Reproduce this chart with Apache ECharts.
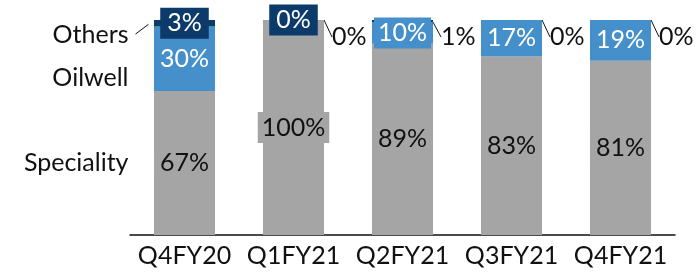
<!DOCTYPE html>
<html>
<head>
<meta charset="utf-8">
<script src="https://cdn.jsdelivr.net/npm/echarts@6/dist/echarts.min.js"></script>
<style>
  html, body { margin: 0; padding: 0; background: #fff; }
  #chart { width: 697px; height: 275px; }
</style>
</head>
<body>
<div id="chart"></div>
<script>
// Chart data
const quarters = ['Q4FY20', 'Q1FY21', 'Q2FY21', 'Q3FY21', 'Q4FY21'];
const speciality = [67, 100, 89, 83, 81];
const oilwell = [30, 0, 10, 17, 19];
const others = [3, 0, 1, 0, 0];
const seriesNames = ['Speciality', 'Oilwell', 'Others'];

// Which labels sit outside the bar (right side, with a leader line)
const oilwellOutside = [false, true, false, false, false];
const othersOutside = [false, false, true, true, true];

const FONT = 'Lato, "Open Sans", sans-serif';
const FSIZE = 25;
const GRAY = '#a5a5a5';
const BLUE = '#4590cb';
const NAVY = '#0c3b6b';

const chart = echarts.init(document.getElementById('chart'), null, { renderer: 'canvas' });

function outsideLayout(flags) {
    return function(params) {
        if (!flags[params.dataIndex]) return {};
        return {
            x: params.rect.x + params.rect.width + 8,
            y: params.rect.y + 17,
            align: 'left',
            verticalAlign: 'middle'
        };
    };
}

function itemData(values, flags) {
    return values.map((v, i) => {
        if (flags && flags[i]) {
            return {
                value: v,
                label: {
                    color: '#111',
                    backgroundColor: 'transparent',
                    padding: 0
                },
                labelLine: { show: true, lineStyle: { color: '#111', width: 1 } }
            };
        }
        return v;
    });
}

const option = {
    animation: false,
    grid: { left: 130, right: 22, top: 20, bottom: 40 },
    xAxis: {
        type: 'category',
        data: quarters,
        axisLine: { lineStyle: { color: '#111', width: 1.5 } },
        axisTick: { show: false },
        axisLabel: { color: '#111', fontFamily: FONT, fontSize: FSIZE, margin: 8, interval: 0 }
    },
    yAxis: {
        type: 'value',
        min: 0,
        max: 100,
        show: false
    },
    series: [
        {
            name: seriesNames[0],
            type: 'bar',
            stack: 'mix',
            barWidth: '56%',
            itemStyle: { color: GRAY },
            label: {
                show: true,
                position: 'inside',
                color: '#111',
                fontFamily: FONT,
                fontSize: FSIZE,
                backgroundColor: GRAY,
                padding: [3, 4],
                formatter: p => p.value + '%'
            },
            data: speciality
        },
        {
            name: seriesNames[1],
            type: 'bar',
            stack: 'mix',
            itemStyle: { color: BLUE },
            label: {
                show: true,
                position: 'inside',
                color: '#fff',
                fontFamily: FONT,
                fontSize: FSIZE,
                backgroundColor: BLUE,
                padding: [3, 4],
                formatter: p => p.value + '%'
            },
            labelLayout: outsideLayout(oilwellOutside),
            data: itemData(oilwell, oilwellOutside)
        },
        {
            name: seriesNames[2],
            type: 'bar',
            stack: 'mix',
            itemStyle: { color: NAVY },
            label: {
                show: true,
                position: 'inside',
                color: '#fff',
                fontFamily: FONT,
                fontSize: FSIZE,
                backgroundColor: NAVY,
                padding: [3, 7],
                formatter: p => p.value + '%'
            },
            labelLayout: outsideLayout(othersOutside),
            data: itemData(others, othersOutside)
        }
    ]
};

chart.setOption(option);

// Series names on the left of the first bar
const p0 = chart.convertToPixel({ gridIndex: 0 }, [0, 0]);
const nameRight = p0[0] - 56;
const yOthers = chart.convertToPixel({ gridIndex: 0 }, [0, 93])[1];
const yOilwell = chart.convertToPixel({ gridIndex: 0 }, [0, 73])[1];
const ySpec = chart.convertToPixel({ gridIndex: 0 }, [0, speciality[0] / 2])[1];
const yTop = chart.convertToPixel({ gridIndex: 0 }, [0, 98])[1];

function nameText(text, y) {
    return {
        type: 'text',
        x: nameRight,
        y: y,
        style: {
            text: text,
            fill: '#111',
            font: FSIZE + 'px ' + FONT,
            textAlign: 'right',
            textVerticalAlign: 'middle'
        }
    };
}

chart.setOption({
    graphic: [
        nameText(seriesNames[2], yOthers),
        nameText(seriesNames[1], yOilwell),
        nameText(seriesNames[0], ySpec),
        {
            type: 'line',
            shape: { x1: nameRight + 7, y1: yOthers - 1, x2: p0[0] - 36, y2: yTop },
            style: { stroke: '#111', lineWidth: 1 }
        }
    ]
});

window.addEventListener('resize', function() {
    chart.resize();
});
</script>
</body>
</html>
